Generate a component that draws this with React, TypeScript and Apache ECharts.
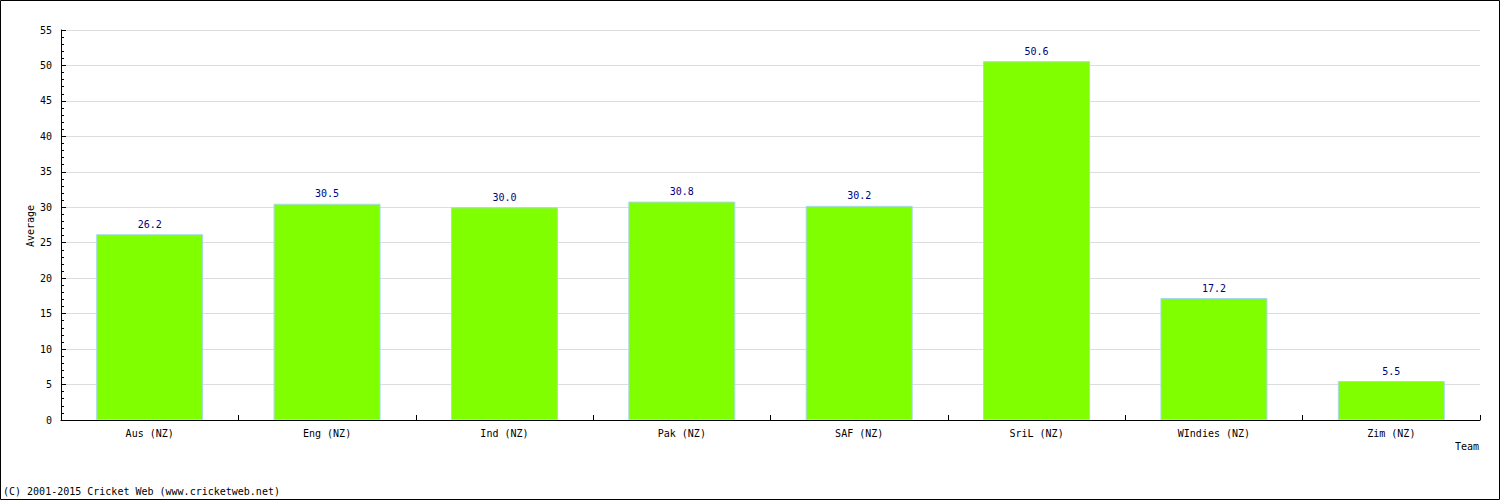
import React, { useEffect, useRef } from "react";
import * as echarts from "echarts";

const categories = ["Aus (NZ)", "Eng (NZ)", "Ind (NZ)", "Pak (NZ)", "SAF (NZ)", "SriL (NZ)", "WIndies (NZ)", "Zim (NZ)"];
const averages = [26.2, 30.5, 30.0, 30.8, 30.2, 50.6, 17.2, 5.5];
const yTicks = { min: 0, max: 55, interval: 5 };
const yAxisName = "Average";
const xAxisName = "Team";
const copyright = "(C) 2001-2015 Cricket Web (www.cricketweb.net)";

const FONT = "DejaVu Sans Mono";

export default function App() {
  const ref = useRef<HTMLDivElement>(null);
  useEffect(() => {
    document.body.style.margin = "0";
    const chart = echarts.init(ref.current!, null, { renderer: "svg" });
    chart.setOption({
      animation: false,
      textStyle: { fontFamily: FONT, fontSize: 10, color: "#000" },
      grid: { left: 61, right: 20, top: 30, height: 390, containLabel: false },
      xAxis: {
        type: "category",
        data: categories,
        axisLine: { lineStyle: { color: "#000", width: 1 } },
        axisTick: { show: true, inside: true, length: 5, alignWithLabel: false, lineStyle: { color: "#000" } },
        axisLabel: { fontFamily: FONT, fontSize: 10, color: "#000", margin: 8 },
        splitLine: { show: false },
      },
      yAxis: {
        type: "value",
        min: yTicks.min,
        max: yTicks.max,
        interval: yTicks.interval,
        axisLine: { show: true, lineStyle: { color: "#000", width: 1 } },
        axisTick: { show: true, inside: true, length: 5, lineStyle: { color: "#000" } },
        minorTick: { show: true, splitNumber: 5, length: 3, lineStyle: { color: "#000" } },
        axisLabel: { fontFamily: FONT, fontSize: 10, color: "#000", margin: 9 },
        splitLine: { show: true, lineStyle: { color: "#dddddd", width: 1 } },
      },
      series: [
        {
          type: "bar",
          data: averages,
          barWidth: 107,
          itemStyle: { color: "#80ff00", borderColor: "#a8d8f0", borderWidth: 1 },
          label: {
            show: true,
            position: "top",
            distance: 5,
            fontFamily: FONT,
            fontSize: 10,
            color: "#000080",
            formatter: (p: any) => Number(p.value).toFixed(1),
          },
        },
      ],
      graphic: [
        {
          type: "rect",
          shape: { x: 0.5, y: 0.5, width: 1499, height: 499 },
          style: { fill: "none", stroke: "#000", lineWidth: 1 },
          silent: true,
        },
        {
          type: "text",
          x: 30,
          y: 226,
          rotation: Math.PI / 2,
          style: { text: yAxisName, font: `10px "${FONT}"`, fill: "#000", align: "center", verticalAlign: "middle" },
        },
        {
          type: "text",
          right: 21,
          top: 441,
          style: { text: xAxisName, font: `10px "${FONT}"`, fill: "#000" },
        },
        {
          type: "text",
          left: 3,
          top: 486,
          style: { text: copyright, font: `10px "${FONT}"`, fill: "#000" },
        },
      ],
    });
    return () => chart.dispose();
  }, []);
  return <div ref={ref} style={{ width: 1500, height: 500 }} />;
}
